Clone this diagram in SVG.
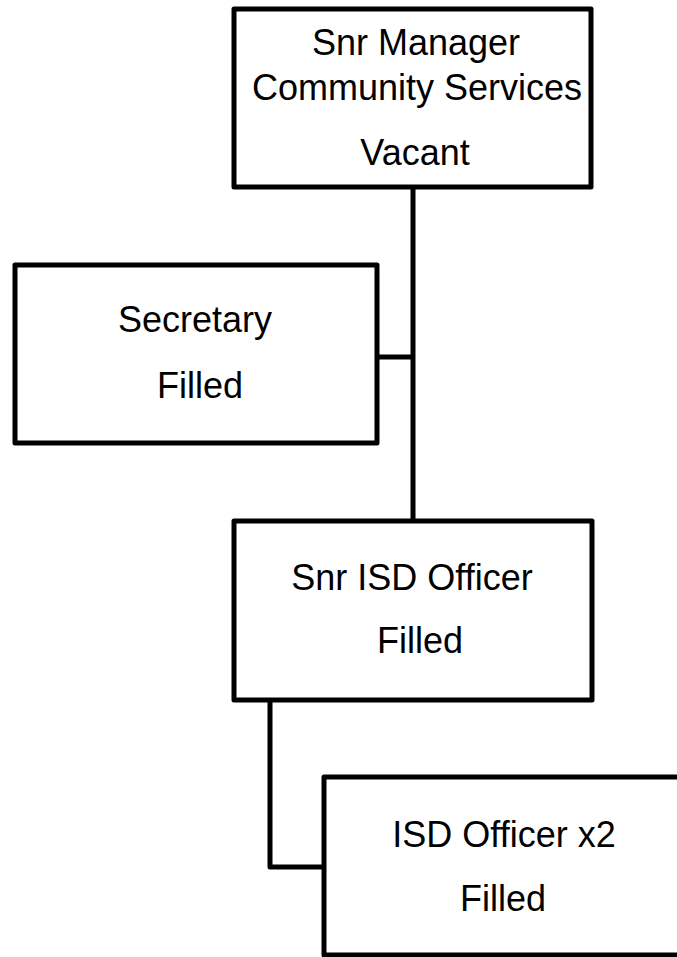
<svg xmlns="http://www.w3.org/2000/svg" width="677" height="957" viewBox="0 0 677 957">
<style>
.box{fill:#ffffff;stroke:#000000;stroke-width:5;stroke-linejoin:round}
.conn{fill:none;stroke:#000000;stroke-width:5;stroke-linejoin:round}
.t{font-family:"Liberation Sans",Arial,sans-serif;font-size:36px;fill:#000000;text-anchor:middle}
</style>
<rect x="0" y="0" width="677" height="957" fill="#ffffff"/>
<g id="connectors">
<path class="conn" d="M413 187 V521"/>
<path class="conn" d="M377 357 H413"/>
<path class="conn" d="M270 700 V867 H324"/>
</g>
<g id="snr-manager">
<rect class="box" x="234" y="9" width="357" height="178"/>
<text class="t" x="416" y="55">Snr Manager</text>
<text class="t" x="417" y="100">Community Services</text>
<text class="t" x="415" y="165">Vacant</text>
</g>
<g id="secretary">
<rect class="box" x="15" y="265" width="362" height="178"/>
<text class="t" x="195" y="332">Secretary</text>
<text class="t" x="200" y="398">Filled</text>
</g>
<g id="snr-isd-officer">
<rect class="box" x="234" y="521" width="358" height="179"/>
<text class="t" x="412" y="590">Snr ISD Officer</text>
<text class="t" x="420" y="653">Filled</text>
</g>
<g id="isd-officer">
<rect class="box" x="324" y="777" width="370" height="178"/>
<text class="t" x="504" y="847">ISD Officer x2</text>
<text class="t" x="503" y="911">Filled</text>
</g>
</svg>
